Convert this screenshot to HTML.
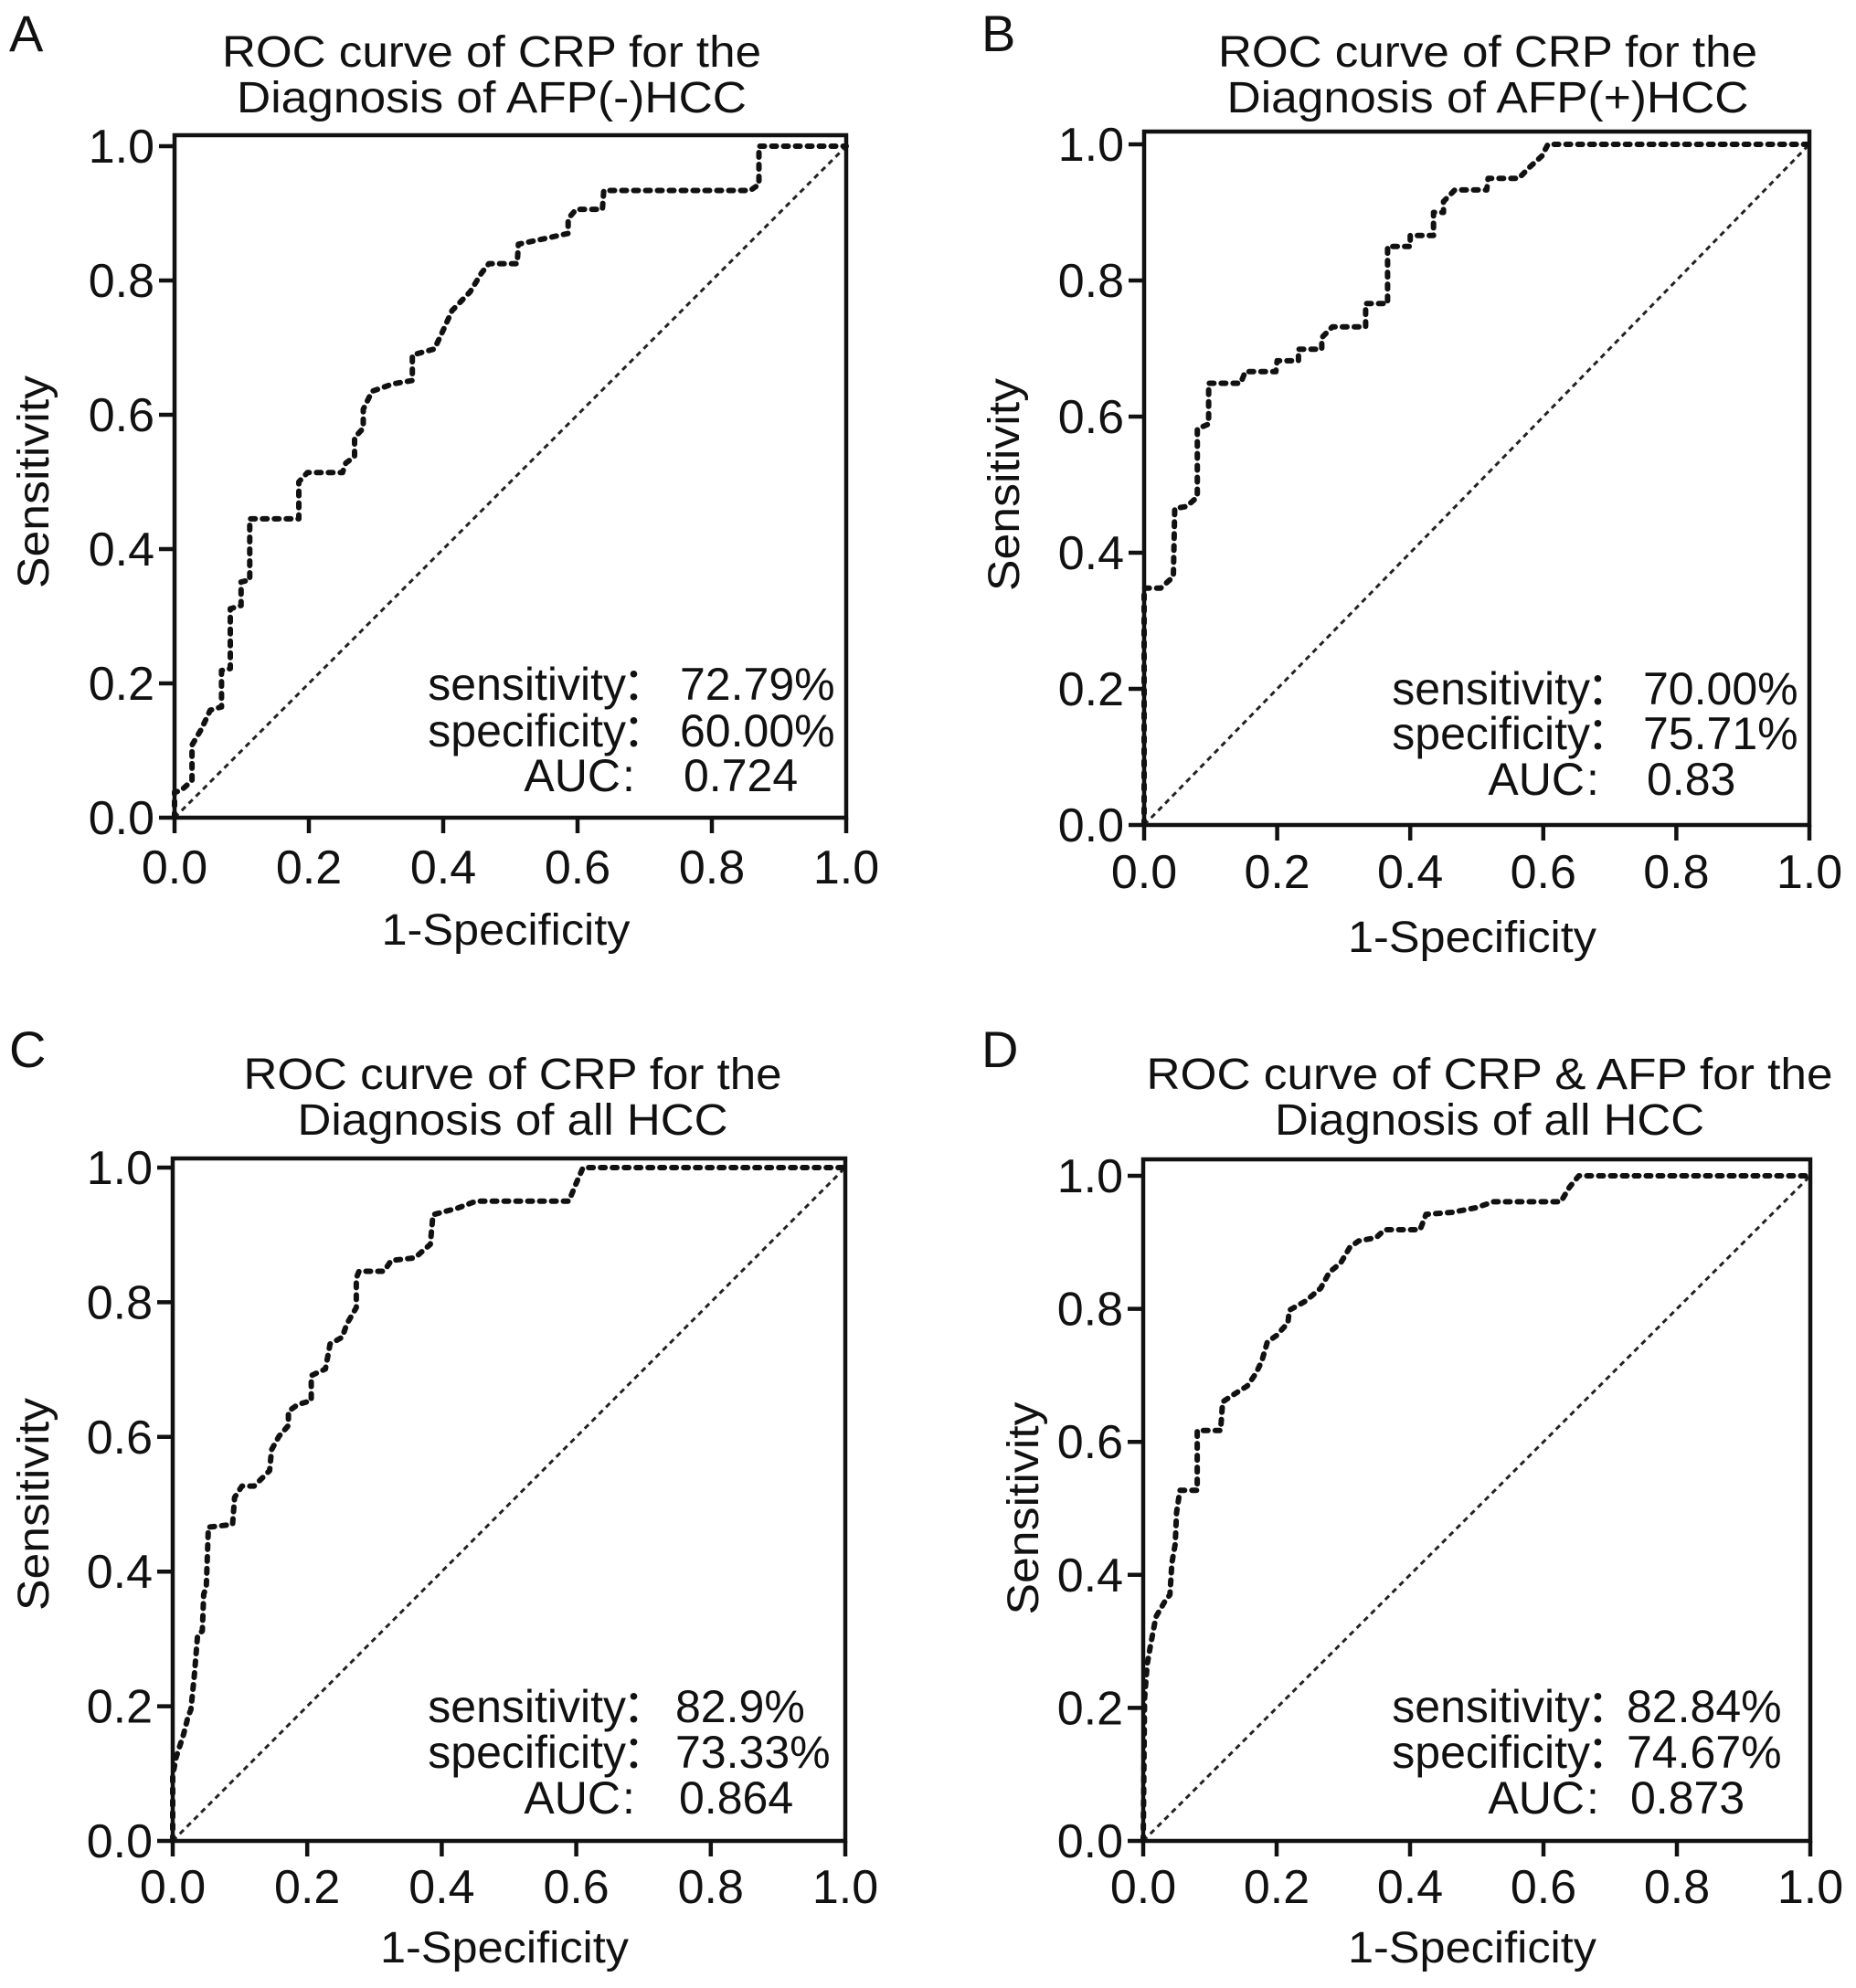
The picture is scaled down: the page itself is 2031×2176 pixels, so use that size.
<!DOCTYPE html>
<html><head><meta charset="utf-8">
<style>
html,body{margin:0;padding:0;background:#fff;}
svg{display:block;}
text{font-family:"Liberation Sans","Noto Sans CJK SC",sans-serif;fill:#111;}
</style></head>
<body>
<svg id="fig" width="2031" height="2176" viewBox="0 0 2031 2176" xmlns="http://www.w3.org/2000/svg"></svg>
<script>
// Panel A data
const aFpr=[0,0,0.009,0.026,0.026,0.040,0.053,0.070,0.070,0.083,0.083,0.099,0.099,0.112,0.112,0.185,0.185,0.198,0.250,0.255,0.268,0.268,0.281,0.281,0.294,0.325,0.354,0.354,0.387,0.400,0.413,0.440,0.457,0.468,0.510,0.512,0.554,0.586,0.586,0.598,0.637,0.639,0.857,0.870,0.870,1];
const aTpr=[0,0.038,0.04,0.055,0.108,0.132,0.160,0.165,0.219,0.222,0.311,0.316,0.351,0.354,0.445,0.445,0.500,0.514,0.514,0.528,0.538,0.566,0.580,0.608,0.635,0.646,0.651,0.689,0.698,0.726,0.755,0.783,0.811,0.825,0.825,0.854,0.863,0.870,0.892,0.906,0.906,0.934,0.934,0.943,1.0,1];
// Panel B data
const bFpr=[0,0,0.025,0.044,0.046,0.064,0.080,0.080,0.097,0.097,0.145,0.152,0.198,0.200,0.232,0.232,0.267,0.267,0.283,0.333,0.333,0.366,0.366,0.40,0.40,0.435,0.435,0.45,0.45,0.467,0.515,0.517,0.563,0.579,0.598,0.607,1];
const bTpr=[0,0.348,0.348,0.365,0.465,0.468,0.482,0.582,0.589,0.649,0.649,0.666,0.666,0.682,0.682,0.699,0.699,0.716,0.732,0.732,0.766,0.766,0.850,0.850,0.866,0.866,0.900,0.900,0.916,0.933,0.933,0.950,0.950,0.966,0.983,1.0,1];
// Panel C data
const cFpr=[0,0,0.005,0.016,0.023,0.027,0.032,0.037,0.044,0.046,0.050,0.053,0.089,0.092,0.103,0.121,0.144,0.147,0.158,0.172,0.172,0.186,0.206,0.206,0.227,0.234,0.252,0.259,0.273,0.273,0.277,0.314,0.325,0.360,0.383,0.387,0.424,0.451,0.589,0.600,0.610,1];
const cTpr=[0,0.097,0.124,0.158,0.185,0.195,0.245,0.305,0.312,0.366,0.379,0.466,0.470,0.510,0.527,0.527,0.550,0.581,0.601,0.617,0.638,0.648,0.654,0.691,0.701,0.738,0.748,0.768,0.792,0.836,0.846,0.846,0.862,0.866,0.886,0.930,0.940,0.950,0.950,0.977,1.0,1];
// Panel D data
const dFpr=[0,0.002,0.006,0.011,0.019,0.033,0.040,0.043,0.048,0.050,0.055,0.081,0.081,0.116,0.119,0.134,0.156,0.169,0.178,0.186,0.200,0.217,0.219,0.244,0.266,0.279,0.296,0.310,0.323,0.349,0.362,0.415,0.424,0.463,0.499,0.525,0.626,0.639,0.653,1];
const dTpr=[0,0.214,0.266,0.294,0.337,0.361,0.370,0.418,0.446,0.494,0.527,0.527,0.617,0.617,0.660,0.670,0.684,0.703,0.722,0.750,0.760,0.779,0.798,0.812,0.831,0.855,0.869,0.893,0.902,0.907,0.919,0.919,0.942,0.945,0.952,0.961,0.961,0.983,1.0,1];
const tickVals=[0,0.2,0.4,0.6,0.8,1.0];
const tickLabels=["0.0","0.2","0.4","0.6","0.8","1.0"];
const statLabels=["sensitivity","specificity","AUC"];
const aStats=["72.79%","60.00%","0.724"];
const bStats=["70.00%","75.71%","0.83"];
const cStats=["82.9%","73.33%","0.864"];
const dStats=["82.84%","74.67%","0.873"];

const NS="http://www.w3.org/2000/svg";
const svg=document.getElementById('fig');
function mk(tag,attrs,parent){const e=document.createElementNS(NS,tag);for(const k in attrs)e.setAttribute(k,attrs[k]);(parent||svg).appendChild(e);return e;}

const panels=[
 {id:'a',letter:'A',lx:10,ly:56,x0:191,x1:926,yb:895,yt:160,ft:148,t1:'ROC curve of CRP for the',t2:'Diagnosis of AFP(-)HCC',tx:538,tb1:73,tb2:123,t1w:590,t2w:558,fpr:aFpr,tpr:aTpr,stats:aStats,lend:685,vx:744,sb:[766,817,866],ylx:37,xlb:967,xtb:1034,xtw:272},
 {id:'b',letter:'B',lx:1074,ly:56,x0:1252,x1:1980,yb:903,yt:158,ft:144,t1:'ROC curve of CRP for the',t2:'Diagnosis of AFP(+)HCC',tx:1628,tb1:73,tb2:123,t1w:590,t2w:571,fpr:bFpr,tpr:bTpr,stats:bStats,lend:1740,vx:1798,sb:[771,820,870],ylx:1099,xlb:972,xtb:1042,xtw:272},
 {id:'c',letter:'C',lx:10,ly:1168,x0:189,x1:925,yb:2015,yt:1278,ft:1268,t1:'ROC curve of CRP for the',t2:'Diagnosis of all HCC',tx:561,tb1:1192,tb2:1242,t1w:589,t2w:471,fpr:cFpr,tpr:cTpr,stats:cStats,lend:685,vx:739,sb:[1885,1935,1985],ylx:37,xlb:2083,xtb:2148,xtw:272},
 {id:'d',letter:'D',lx:1074,ly:1168,x0:1251,x1:1981,yb:2015,yt:1287,ft:1269,t1:'ROC curve of CRP & AFP for the',t2:'Diagnosis of all HCC',tx:1630,tb1:1192,tb2:1242,t1w:751,t2w:470,fpr:dFpr,tpr:dTpr,stats:dStats,lend:1740,vx:1780,sb:[1885,1935,1985],ylx:1120,xlb:2083,xtb:2148,xtw:272}
];

panels.forEach(p=>{
  const g=mk('g',{});
  
  
  const X=v=>p.x0+v*(p.x1-p.x0);
  const Y=v=>p.yb-v*(p.yb-p.yt);
  const L=mk('text',{x:p.lx,y:p.ly,'font-size':56},g);L.textContent=p.letter;
  
  
  const T1=mk('text',{x:p.tx,y:p.tb1,'font-size':48,'text-anchor':'middle',textLength:p.t1w,lengthAdjust:'spacingAndGlyphs'},g);T1.textContent=p.t1;
  
  
  const T2=mk('text',{x:p.tx,y:p.tb2,'font-size':48,'text-anchor':'middle',textLength:p.t2w,lengthAdjust:'spacingAndGlyphs'},g);T2.textContent=p.t2;
  
  
  const F=mk('path',{d:`M${p.x0},${p.yb} V${p.ft} H${p.x1} V${p.yb} Z`,fill:'none',stroke:'#111','stroke-width':4.5},g);
  
  
  tickVals.forEach((v,i)=>{
    const ty=mk('line',{x1:p.x0-17,x2:p.x0,y1:Y(v),y2:Y(v),stroke:'#111','stroke-width':4.5},g);
    
    
    const tyl=mk('text',{x:p.x0-22,y:Y(v)+18,'font-size':52,'text-anchor':'end'},g);tyl.textContent=tickLabels[i];
    
    
    const tx=mk('line',{x1:X(v),x2:X(v),y1:p.yb,y2:p.yb+17,stroke:'#111','stroke-width':4.5},g);
    
    
    const txl=mk('text',{x:X(v),y:p.xlb,'font-size':52,'text-anchor':'middle'},g);txl.textContent=tickLabels[i];
    
    
  });
  const xt=mk('text',{x:(p.x0+p.x1)/2-5,y:p.xtb,'font-size':48,'text-anchor':'middle',textLength:p.xtw,lengthAdjust:'spacingAndGlyphs'},g);xt.textContent='1-Specificity';
  
  
  const yc=(p.yb+p.yt)/2;
  const yt=mk('text',{x:0,y:0,'font-size':48,'text-anchor':'middle',transform:`translate(${p.ylx+16},${yc}) rotate(-90)`,textLength:233,lengthAdjust:'spacingAndGlyphs'},g);yt.textContent='Sensitivity';
  
  
  const dg=mk('line',{x1:X(0),y1:Y(0),x2:X(1),y2:Y(1),stroke:'#222','stroke-width':3,'stroke-dasharray':'6 5'},g);
  
  
  const pts=p.fpr.map((f,i)=>X(f).toFixed(1)+','+Y(p.tpr[i]).toFixed(1)).join(' ');
  const c=mk('polyline',{points:pts,fill:'none',stroke:'#111','stroke-width':6,'stroke-dasharray':'5 8','stroke-linecap':'round','stroke-linejoin':'round'},g);
  
  
  statLabels.forEach((lab,i)=>{
    const isAuc=lab==='AUC';
    const end=isAuc?p.lend-6:p.lend;
    const t=mk('text',{x:end,y:p.sb[i],'font-size':50,'text-anchor':'end'},g);t.textContent=lab;
    
    
    const col=mk('text',{x:isAuc?end+2:end-4,y:p.sb[i],'font-size':50},g);col.textContent=isAuc?':':'：';
    
    
    const v=mk('text',{x:isAuc?p.vx+4:p.vx,y:p.sb[i],'font-size':50},g);v.textContent=p.stats[i];
    
    
  });
});
</script>
</body></html>
